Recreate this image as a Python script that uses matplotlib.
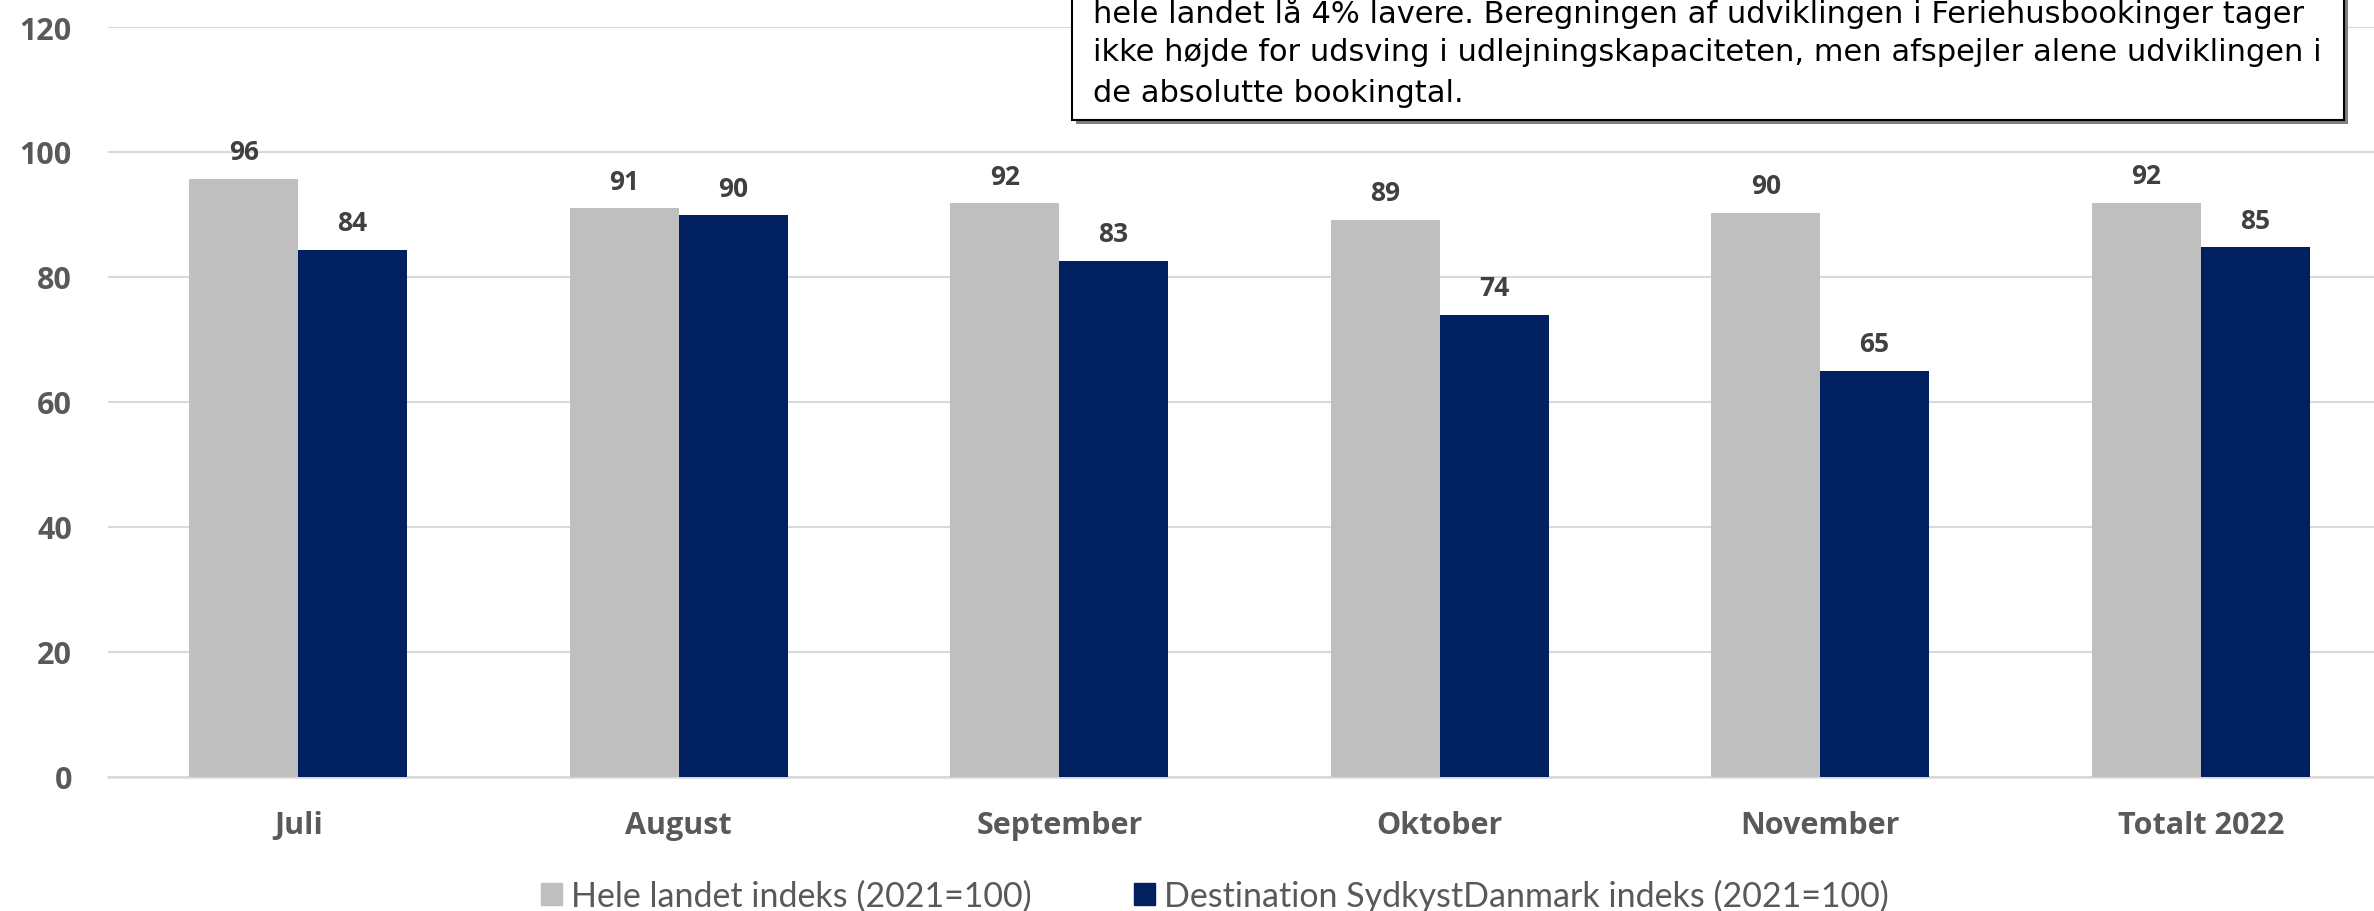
import matplotlib.pyplot as plt
from matplotlib.patches import Patch, Rectangle
import numpy as np

# Data
categories = ['Juli', 'August', 'September', 'Oktober', 'November', 'Totalt 2022']
hele_landet = [95.7, 91.0, 91.8, 89.2, 90.3, 91.9]
sydkyst = [84.4, 89.9, 82.6, 74.0, 65.0, 84.8]
series_names = ['Hele landet indeks (2021=100)', 'Destination SydkystDanmark indeks (2021=100)']
note_lines = [
    'hele landet lå 4% lavere. Beregningen af udviklingen i Feriehusbookinger tager',
    'ikke højde for udsving i udlejningskapaciteten, men afspejler alene udviklingen i',
    'de absolutte bookingtal.',
]

gray = '#BFBFBF'
navy = '#002060'
txt = '#595959'
lbl = '#404040'
bold_font = ['Open Sans', 'DejaVu Sans']

plt.rcParams['font.family'] = ['Lato', 'DejaVu Sans']

fig = plt.figure(figsize=(23.74, 9.12), dpi=100)
ax = fig.add_axes([108 / 2374, 134 / 912, 2283 / 2374, 750 / 912])

x = np.arange(len(categories))
w = 0.286
b1 = ax.bar(x - w / 2, hele_landet, w, color=gray, zorder=3)
b2 = ax.bar(x + w / 2, sydkyst, w, color=navy, zorder=3)

# value labels
for bars, vals in [(b1, hele_landet), (b2, sydkyst)]:
    for r, v in zip(bars, vals):
        ax.annotate(f'{v:.0f}', (r.get_x() + r.get_width() / 2, v),
                    xytext=(0, 14), textcoords='offset points',
                    ha='center', va='baseline', fontsize=19,
                    fontweight='bold', family=bold_font, color=lbl)

ax.set_xlim(-0.5, len(categories) - 0.5)
ax.set_ylim(0, 120)
ax.set_yticks(range(0, 121, 20))
ax.set_xticks(x)
ax.set_xticklabels(categories)
ax.grid(axis='y', color='#D9D9D9', linewidth=1.5, zorder=0)
for s in ['top', 'right', 'left']:
    ax.spines[s].set_visible(False)
ax.spines['bottom'].set_color('#D9D9D9')
ax.spines['bottom'].set_linewidth(1.8)
ax.tick_params(axis='both', length=0, labelsize=22, labelcolor=txt)
ax.tick_params(axis='y', pad=26)
ax.tick_params(axis='x', pad=24)
for t in ax.get_xticklabels() + ax.get_yticklabels():
    t.set_fontweight('bold')
    t.set_family(bold_font)

# legend
handles = [Patch(color=gray), Patch(color=navy)]
fig.legend(handles, series_names, loc='center left', bbox_to_anchor=(524 / 2374, 16 / 912),
           ncol=2, frameon=False, fontsize=24.5, labelcolor=txt, borderpad=0,
           handlelength=0.62, handleheight=0.62, handletextpad=0.27, columnspacing=3.0)

# note box, cut off at the top of the figure
shadow = Rectangle((1076 / 2374, 787 / 912), 1272 / 2374, 200 / 912, transform=fig.transFigure,
                   facecolor='#7F7F7F', edgecolor='none', zorder=4)
box = Rectangle((1072 / 2374, 791 / 912), 1272 / 2374, 200 / 912, transform=fig.transFigure,
                facecolor='white', edgecolor='black', linewidth=1.5, zorder=5)
fig.patches.extend([shadow, box])
for i, line in enumerate(note_lines):
    fig.text(1093 / 2374, (912 - 12 - 40.5 * i) / 912, line, ha='left', va='center',
             fontsize=22, family='DejaVu Sans', color='black', zorder=6)

fig.savefig('out.png', dpi=100)
